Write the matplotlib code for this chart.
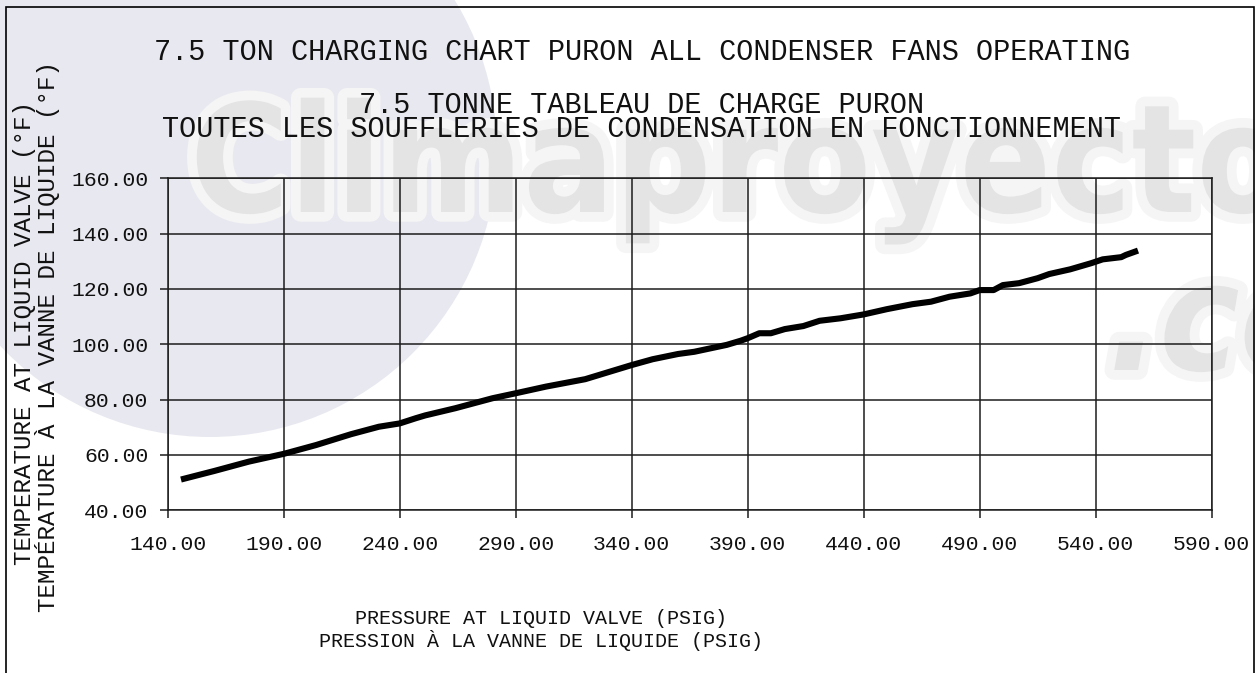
import matplotlib
matplotlib.use("Agg")
import numpy as np
import matplotlib.pyplot as plt
from matplotlib.patches import Ellipse, Rectangle
import matplotlib.patheffects as pe

# liquid line pressure (psig) vs liquid temperature (F)
pressure = [147, 160, 175, 190, 204, 219, 231, 240, 247, 251, 264, 280, 290, 303,
            320, 329, 340, 349, 360, 367, 381, 387, 390, 395, 400, 406, 414, 421,
            430, 440, 450, 461, 469, 477, 486, 490, 496, 500, 507, 515, 520, 529,
            538, 543, 551, 553, 557]
temperature = [51.4, 54.2, 57.6, 60.4, 63.6, 67.5, 70.2, 71.4, 73.3, 74.3, 76.9, 80.5,
               82.3, 84.7, 87.4, 89.7, 92.5, 94.6, 96.5, 97.3, 99.8, 101.3, 102.2,
               104.0, 104.0, 105.5, 106.6, 108.5, 109.4, 110.8, 112.7, 114.5, 115.4,
               117.2, 118.4, 119.6, 119.6, 121.4, 122.1, 123.9, 125.4, 127.1, 129.3,
               130.7, 131.5, 132.3, 133.5]

x_ticks = [140, 190, 240, 290, 340, 390, 440, 490, 540, 590]
y_ticks = [40, 60, 80, 100, 120, 140, 160]

title_en = "7.5 TON CHARGING CHART PURON ALL CONDENSER FANS OPERATING"
title_fr = ["7.5 TONNE TABLEAU DE CHARGE PURON",
            "TOUTES LES SOUFFLERIES DE CONDENSATION EN FONCTIONNEMENT"]
xlabel_lines = ["PRESSURE AT LIQUID VALVE (PSIG)",
                "PRESSION À LA VANNE DE LIQUIDE (PSIG)"]
ylabel_lines = ["TEMPERATURE AT LIQUID VALVE (°F)",
                "TEMPÉRATURE À LA VANNE DE LIQUIDE (°F)"]

plt.rcParams['font.family'] = ['Liberation Mono', 'DejaVu Sans Mono']

W, H = 1255, 673


def fx(px):
    return px / W


def fy(py):
    return 1 - py / H


fig = plt.figure(figsize=(W / 100, H / 100), dpi=100)

# background logo / watermark
fig.patches.append(Ellipse((fx(210), fy(150)), 2 * 287 / W, 2 * 287 / H,
                           transform=fig.transFigure, facecolor='#e8e8f0',
                           edgecolor='none', zorder=-10))
halo = [pe.withStroke(linewidth=14, foreground='#f5f5f5')]
wm = fig.text(fx(190), fy(212), "Climaproyectos", fontsize=130, color='#e4e4e4',
              weight='bold', fontstretch='condensed',
              family=['Liberation Sans Narrow', 'DejaVu Sans'],
              ha='left', va='baseline', zorder=-5, path_effects=halo)
r = fig.canvas.get_renderer()
w = wm.get_window_extent(r).width
size = 130 * 1180 / w
wm.set_fontsize(size)
fig.text(fx(1108), fy(370), ".com", fontsize=size, color='#e4e4e4', weight='bold',
         style='italic', fontstretch='condensed',
         family=['Liberation Sans Narrow', 'DejaVu Sans'],
         ha='left', va='baseline', zorder=-5, path_effects=halo)

# page frame
fig.patches.append(Rectangle((fx(6), -0.05), fx(1254) - fx(6), fy(7) + 0.05,
                             transform=fig.transFigure, fill=False,
                             edgecolor='black', linewidth=1.2, zorder=1))

ax = fig.add_axes([fx(167.7), fy(510.3), fx(1211.7) - fx(167.7),
                   fy(178.3) - fy(510.3)])
ax.set_facecolor('none')

ax.plot(pressure, temperature, color='black', linewidth=4.4, zorder=3)

ax.set_xlim(140, 590)
ax.set_ylim(40, 160)
ax.set_xticks(x_ticks)
ax.set_xticklabels([f"{v:.2f}" for v in x_ticks])
ax.set_yticks(y_ticks)
ax.set_yticklabels([f"{v:.2f}" for v in y_ticks])
ax.grid(True, color='#1c1c1c', linewidth=1.1)
for s in ax.spines.values():
    s.set_color('#1c1c1c')
    s.set_linewidth(1.1)
ax.tick_params(direction='out', length=5.5, width=1.1, color='#1c1c1c',
               labelsize=15.4, labelcolor='#111111')
ax.tick_params(axis='x', pad=12)
ax.tick_params(axis='y', pad=8.5)

# titles (multi-line text is anchored on the baseline of its last line)
fig.text(fx(642), fy(60), title_en, ha='center', va='baseline', fontsize=20.6,
         color='#111111')
fig.text(fx(642), fy(137), "\n".join(title_fr), ha='center', va='baseline',
         multialignment='center', linespacing=0.83, fontsize=20.6,
         color='#111111')

fig.text(fx(541), fy(647), "\n".join(xlabel_lines), ha='center', va='baseline',
         multialignment='center', linespacing=1.1, fontsize=14.4,
         color='#111111')

for txt, xb, yc in zip(ylabel_lines, [31, 55], [333, 336]):
    fig.text(fx(xb), fy(yc), txt, ha='center', va='baseline', rotation=90,
             rotation_mode='anchor', fontsize=17.5, color='#111111')

fig.savefig("out.png", dpi=100)
